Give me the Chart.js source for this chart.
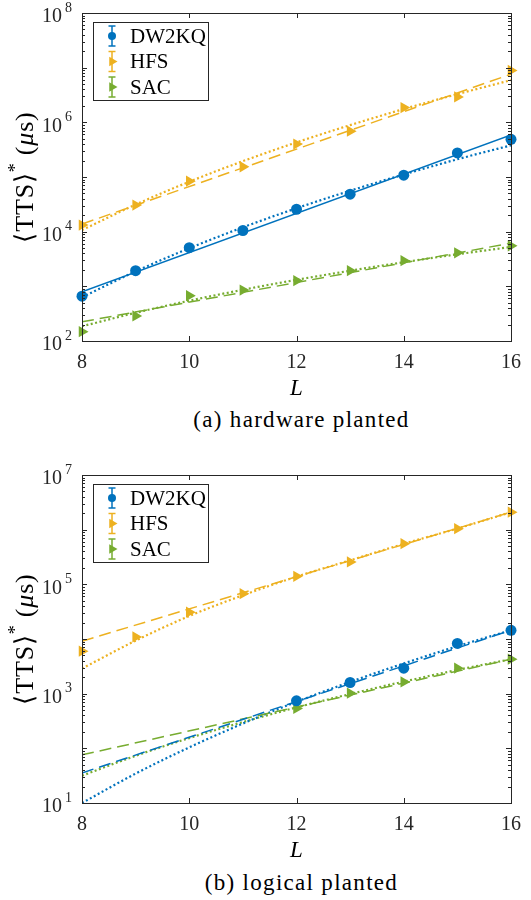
<!DOCTYPE html>
<html>
<head>
<meta charset="utf-8">
<script src="https://cdn.jsdelivr.net/npm/chart.js@4.4.0/dist/chart.umd.min.js"></script>
<style>
  body { margin: 0; background: #fff; width: 531px; height: 900px; position: relative; overflow: hidden; }
  .box { position: absolute; left: 0; width: 531px; height: 400px; }
  .caption { position: absolute; left: 82px; width: 439px; text-align: center; color: #000;
             font: 23px "Liberation Serif", serif; letter-spacing: 1.3px; line-height: 26px; }
</style>
</head>
<body>
<div class="box" style="top:0"><canvas id="chartA"></canvas></div>
<div class="caption" style="top:407px">(a) hardware planted</div>
<div class="box" style="top:462px"><canvas id="chartB"></canvas></div>
<div class="caption" style="top:870px">(b) logical planted</div>
<script>
// system sizes
const sizes = [8, 9, 10, 11, 12, 13, 14, 15, 16];
const fitEnds = [8, 16];
const xTicks = [8, 10, 12, 14, 16];

// (a) hardware planted: measured TTS
const hwDW2KQ = [660, 1930, 5100, 10500, 25700, 48600, 108000, 275000, 490000];
const hwHFS = [13200, 30600, 84000, 154000, 400000, 690000, 1860000, 2920000, 8900000];
const hwSAC = [148, 287, 673, 855, 1270, 1930, 2940, 4110, 5500];
// (a) exponential fits (end points) and curved fits (read at each L)
const hwDW2KQExp = [794, 589000];
const hwHFSExp = [13800, 7600000];
const hwSACExp = [224, 6170];
const hwDW2KQPow = [631, 1875, 4966, 12000, 26800, 56100, 111000, 211000, 380000];
const hwHFSPow = [10700, 31300, 81800, 195000, 430000, 889000, 1750000, 3280000, 5890000];
const hwSACPow = [186, 328, 546, 865, 1315, 1932, 2761, 3855, 5250];

// (b) logical planted
const lgSizes = [12, 13, 14, 15, 16];
const lgDW2KQ = [740, 1600, 2920, 8300, 14400];
const lgHFS = [6000, 10900, 30900, 67500, 140000, 257000, 553000, 1040000, 2090000];
const lgSAC = [537, 1020, 1640, 2920, 4270];
const lgDW2KQExp = [35.5, 14500];
const lgHFSExp = [9120, 2090000];
const lgSACExp = [76, 4270];
const lgDW2KQPow = [10, 34.5, 104, 284, 710, 1640, 3570, 7380, 14450];
const lgHFSPow = [2880, 9330, 26300, 63100, 138000, 275000, 550000, 1050000, 2090000];
const lgSACPow = [31.6, 73, 154, 302, 560, 984, 1663, 2716, 4266];

const BLUE = '#0072BD', ORANGE = '#EDB120', GREEN = '#77AC30';
const axisColor = '#262626';
const serif = '"Liberation Serif", "Times New Roman", serif';

function pts(xs, ys) {
    return xs.map((x, i) => ({ x: x, y: ys[i] }));
}

function markers(label, xs, ys, color, marker) {
    return {
        label: label, data: pts(xs, ys), showLine: false, clip: false,
        pointStyle: marker === 'circle' ? 'circle' : 'triangle',
        pointRotation: marker === 'circle' ? 0 : 90,
        pointRadius: marker === 'circle' ? 5.5 : 6.5,
        pointBackgroundColor: color, pointBorderColor: color, pointBorderWidth: 0
    };
}

function fitLine(xs, ys, color, dash, curved) {
    return {
        data: pts(xs, ys), borderColor: color, borderWidth: curved ? 2.2 : 1.5,
        borderDash: dash, pointRadius: 0, fill: false,
        tension: curved ? 0.4 : 0, cubicInterpolationMode: curved ? 'monotone' : 'default'
    };
}

function line(ctx, x1, y1, x2, y2) {
    ctx.beginPath();
    ctx.moveTo(x1, y1);
    ctx.lineTo(x2, y2);
    ctx.stroke();
}

function drawMarker(ctx, x, y, r, marker, color) {
    ctx.fillStyle = color;
    ctx.beginPath();
    if (marker === 'circle') {
        ctx.arc(x, y, r, 0, Math.PI * 2);
    } else {
        ctx.moveTo(x + r, y);
        ctx.lineTo(x - r / 2, y - r * 0.87);
        ctx.lineTo(x - r / 2, y + r * 0.87);
        ctx.closePath();
    }
    ctx.fill();
}

// frame, inward ticks, tick labels with exponents, axis titles and legend
const matlabAxes = {
    id: 'matlabAxes',
    afterDraw(chart, args, opts) {
        const ctx = chart.ctx;
        const a = chart.chartArea;
        const ys = chart.scales.y, xs = chart.scales.x;
        ctx.save();
        ctx.strokeStyle = axisColor;
        ctx.lineWidth = 1;

        // y ticks on both sides
        for (let e = opts.minExp; e <= opts.maxExp; e++) {
            for (let k = 1; k <= 9; k++) {
                if (e === opts.maxExp && k > 1) break;
                const py = Math.round(ys.getPixelForValue(k * Math.pow(10, e))) + 0.5;
                const len = k === 1 ? 5 : 3;
                line(ctx, a.left, py, a.left + len, py);
                line(ctx, a.right, py, a.right - len, py);
            }
        }
        // x ticks top and bottom
        xTicks.forEach(v => {
            const px = Math.round(xs.getPixelForValue(v)) + 0.5;
            line(ctx, px, a.bottom, px, a.bottom - 5);
            line(ctx, px, a.top, px, a.top + 5);
        });
        ctx.strokeRect(Math.round(a.left) + 0.5, Math.round(a.top) + 0.5,
                       Math.round(a.right - a.left), Math.round(a.bottom - a.top));

        // y tick labels 10^n
        ctx.fillStyle = axisColor;
        ctx.textBaseline = 'middle';
        opts.labelExps.forEach(e => {
            const py = ys.getPixelForValue(Math.pow(10, e));
            ctx.font = '20px ' + serif;
            ctx.textAlign = 'right';
            ctx.fillText('10', a.left - 20, py + 4);
            ctx.font = '14px ' + serif;
            ctx.textAlign = 'left';
            ctx.fillText(String(e), a.left - 17, py - 5);
        });

        // x title
        ctx.fillStyle = '#000';
        ctx.font = 'italic 23px ' + serif;
        ctx.textAlign = 'center';
        ctx.fillText('L', (a.left + a.right) / 2, a.bottom + 48);

        // y title
        const parts = [
            { t: '\u27E8TTS\u27E9', f: '26px ' + serif, dy: 0 },
            { t: '*', f: '18px ' + serif, dy: -10 },
            { t: ' (', f: '26px ' + serif, dy: 0 },
            { t: '\u03BC', f: 'italic 26px ' + serif, dy: 0 },
            { t: 's)', f: '26px ' + serif, dy: 0 }
        ];
        ctx.save();
        ctx.letterSpacing = '0.8px';
        let total = 0;
        parts.forEach(p => { ctx.font = p.f; p.w = ctx.measureText(p.t).width; total += p.w; });
        ctx.translate(26, (a.top + a.bottom) / 2);
        ctx.rotate(-Math.PI / 2);
        ctx.textAlign = 'left';
        let cx = -total / 2;
        parts.forEach(p => { ctx.font = p.f; ctx.fillText(p.t, cx, p.dy); cx += p.w; });
        ctx.restore();

        // legend
        const lx = a.left + 11, ly = a.top + 9, lw = 115, lh = 78;
        ctx.fillStyle = '#fff';
        ctx.fillRect(lx, ly, lw, lh);
        ctx.strokeStyle = axisColor;
        ctx.strokeRect(lx + 0.5, ly + 0.5, lw, lh);
        opts.legend.forEach((s, i) => {
            const cy = ly + 14 + i * 25.5;
            const ix = lx + 19;
            ctx.strokeStyle = s.color;
            ctx.lineWidth = 1.5;
            line(ctx, ix, cy - 10, ix, cy + 10);
            line(ctx, ix - 3.5, cy - 10, ix + 3.5, cy - 10);
            line(ctx, ix - 3.5, cy + 10, ix + 3.5, cy + 10);
            drawMarker(ctx, ix, cy, s.marker === 'circle' ? 4 : 5.5, s.marker, s.color);
            ctx.fillStyle = '#000';
            ctx.font = '21px ' + serif;
            ctx.textAlign = 'left';
            ctx.fillText(s.label, lx + 37, cy + 1);
        });
        ctx.restore();
    }
};

const legendItems = [
    { label: 'DW2KQ', color: BLUE, marker: 'circle' },
    { label: 'HFS', color: ORANGE, marker: 'triangle' },
    { label: 'SAC', color: GREEN, marker: 'triangle' }
];

function makeChart(id, datasets, yMin, yMax, minExp, maxExp, labelExps) {
    return new Chart(document.getElementById(id), {
        type: 'line',
        data: { datasets: datasets },
        plugins: [matlabAxes],
        options: {
            responsive: true,
            maintainAspectRatio: false,
            animation: false,
            layout: { padding: { top: 13, right: 10, left: 0, bottom: 0 } },
            plugins: {
                legend: { display: false },
                tooltip: { enabled: false },
                matlabAxes: { minExp: minExp, maxExp: maxExp, labelExps: labelExps, legend: legendItems }
            },
            scales: {
                x: {
                    type: 'linear', min: 8, max: 16,
                    grid: { display: false, drawTicks: false },
                    border: { display: false },
                    ticks: { stepSize: 2, padding: 10, color: axisColor, font: { family: serif, size: 20 } },
                    afterFit: scale => { scale.height = 59; }
                },
                y: {
                    type: 'logarithmic', min: yMin, max: yMax,
                    grid: { display: false, drawTicks: false },
                    border: { display: false },
                    ticks: { display: false },
                    afterFit: scale => { scale.width = 82; }
                }
            }
        }
    });
}

makeChart('chartA', [
    markers('DW2KQ', sizes, hwDW2KQ, BLUE, 'circle'),
    markers('HFS', sizes, hwHFS, ORANGE, 'triangle'),
    markers('SAC', sizes, hwSAC, GREEN, 'triangle'),
    fitLine(fitEnds, hwDW2KQExp, BLUE, [], false),
    fitLine(fitEnds, hwHFSExp, ORANGE, [12, 6], false),
    fitLine(fitEnds, hwSACExp, GREEN, [12, 6], false),
    fitLine(sizes, hwDW2KQPow, BLUE, [2, 2.5], true),
    fitLine(sizes, hwHFSPow, ORANGE, [2, 2.5], true),
    fitLine(sizes, hwSACPow, GREEN, [2, 2.5], true)
], 1e2, 1e8, 2, 8, [2, 4, 6, 8]);

makeChart('chartB', [
    markers('DW2KQ', lgSizes, lgDW2KQ, BLUE, 'circle'),
    markers('HFS', sizes, lgHFS, ORANGE, 'triangle'),
    markers('SAC', lgSizes, lgSAC, GREEN, 'triangle'),
    fitLine(fitEnds, lgDW2KQExp, BLUE, [12, 6], false),
    fitLine(fitEnds, lgHFSExp, ORANGE, [12, 6], false),
    fitLine(fitEnds, lgSACExp, GREEN, [12, 6], false),
    fitLine(sizes, lgDW2KQPow, BLUE, [2, 2.5], true),
    fitLine(sizes, lgHFSPow, ORANGE, [2, 2.5], true),
    fitLine(sizes, lgSACPow, GREEN, [2, 2.5], true)
], 1e1, 1e7, 1, 7, [1, 3, 5, 7]);
</script>
</body>
</html>
